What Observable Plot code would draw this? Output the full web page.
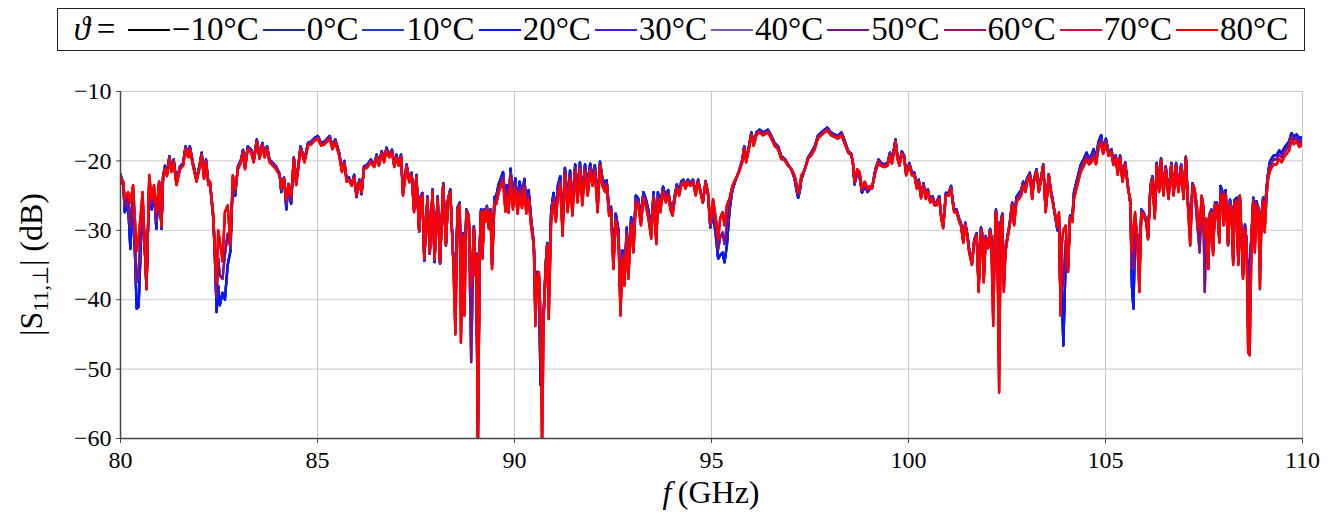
<!DOCTYPE html>
<html><head><meta charset="utf-8">
<script src="https://cdn.jsdelivr.net/npm/d3@7"></script>
<script src="https://cdn.jsdelivr.net/npm/@observablehq/plot@0.6"></script>
<style>
body{margin:0;background:#fff;font-family:"Liberation Serif",serif;}
#wrap{position:relative;width:1336px;height:515px;overflow:hidden;}
#legend{position:absolute;left:57px;top:8px;width:1246px;height:41px;border:1px solid #222;display:flex;align-items:center;justify-content:center;font-size:33px;white-space:nowrap;}
.item{display:flex;align-items:center;}
.sw{display:inline-block;width:42px;height:2px;margin:0 2px 0 4px;}
#chart{position:absolute;left:0;top:57px;}
</style></head><body>
<div id="wrap"><div id="legend"></div><div id="chart"></div></div>
<script>
const temps = [-10, 0, 10, 20, 30, 40, 50, 60, 70, 80];
const colors = ["#000000","#15308f","#1e3fd0","#0a14ff","#4a1ae6","#8258b4","#80107f","#a0106a","#d0103c","#ff0000"];
const group = ["cold","cold","cold","cold","mid","mid","mid","warm","warm","warm"];
const xTicks = [80, 85, 90, 95, 100, 105, 110];
const yTicks = [-60, -50, -40, -30, -20, -10];

const freq = [80.00,80.07,80.11,80.19,80.25,80.32,80.41,80.46,80.51,80.56,80.66,80.73,80.79,80.85,80.91,80.98,81.04,81.08,81.13,81.18,81.24,81.29,81.35,81.42,81.51,81.59,81.65,81.72,81.76,81.84,81.93,82.00,82.06,82.12,82.17,82.23,82.27,82.35,82.39,82.44,82.48,82.52,82.59,82.65,82.72,82.79,82.85,82.91,82.98,83.06,83.11,83.16,83.23,83.32,83.38,83.46,83.53,83.60,83.66,83.72,83.78,83.87,83.95,84.04,84.08,84.15,84.21,84.26,84.33,84.40,84.46,84.52,84.57,84.67,84.76,84.84,84.92,85.01,85.09,85.18,85.31,85.38,85.45,85.55,85.62,85.68,85.74,85.80,85.87,85.93,85.99,86.06,86.12,86.18,86.27,86.35,86.44,86.50,86.56,86.63,86.69,86.75,86.82,86.89,86.95,87.00,87.06,87.12,87.17,87.26,87.33,87.39,87.45,87.51,87.58,87.62,87.66,87.71,87.79,87.85,87.92,87.97,88.05,88.11,88.19,88.26,88.31,88.37,88.44,88.50,88.56,88.61,88.64,88.70,88.73,88.78,88.84,88.90,88.97,89.00,89.03,89.07,89.12,89.15,89.19,89.22,89.26,89.30,89.35,89.39,89.43,89.49,89.54,89.60,89.66,89.71,89.77,89.81,89.85,89.90,89.96,90.02,90.08,90.13,90.19,90.25,90.30,90.36,90.42,90.49,90.53,90.57,90.62,90.66,90.70,90.74,90.79,90.83,90.87,90.93,90.99,91.05,91.10,91.16,91.22,91.28,91.35,91.41,91.47,91.54,91.60,91.66,91.72,91.79,91.86,91.92,91.98,92.04,92.11,92.17,92.23,92.30,92.34,92.40,92.45,92.51,92.57,92.64,92.69,92.74,92.79,92.85,92.89,92.96,93.02,93.08,93.14,93.21,93.27,93.33,93.40,93.47,93.53,93.60,93.64,93.70,93.77,93.84,93.90,93.96,94.01,94.07,94.12,94.18,94.23,94.29,94.34,94.40,94.46,94.53,94.60,94.66,94.72,94.78,94.85,94.91,94.97,95.04,95.11,95.17,95.22,95.28,95.33,95.39,95.46,95.53,95.61,95.70,95.78,95.83,95.88,95.95,96.01,96.07,96.14,96.22,96.31,96.43,96.52,96.60,96.69,96.77,96.86,96.94,97.03,97.11,97.15,97.20,97.24,97.28,97.37,97.45,97.53,97.62,97.70,97.79,97.87,97.94,98.03,98.13,98.21,98.30,98.38,98.47,98.55,98.59,98.63,98.70,98.76,98.82,98.89,98.96,99.02,99.07,99.16,99.24,99.30,99.39,99.47,99.53,99.58,99.67,99.72,99.77,99.83,99.89,99.94,100.02,100.09,100.15,100.21,100.26,100.32,100.38,100.44,100.49,100.55,100.61,100.66,100.71,100.78,100.83,100.88,100.95,101.02,101.08,101.12,101.16,101.22,101.29,101.33,101.39,101.44,101.50,101.54,101.61,101.67,101.73,101.78,101.84,101.87,101.91,101.96,102.02,102.07,102.10,102.15,102.19,102.22,102.25,102.30,102.34,102.38,102.42,102.46,102.51,102.57,102.63,102.68,102.74,102.80,102.86,102.91,102.97,103.01,103.08,103.14,103.18,103.25,103.31,103.37,103.42,103.48,103.52,103.56,103.61,103.66,103.71,103.78,103.82,103.86,103.89,103.93,103.99,104.05,104.10,104.16,104.20,104.28,104.37,104.45,104.52,104.58,104.64,104.70,104.76,104.82,104.89,104.94,105.01,105.08,105.15,105.20,105.26,105.31,105.37,105.43,105.50,105.57,105.63,105.67,105.71,105.75,105.80,105.86,105.91,105.97,106.03,106.08,106.14,106.19,106.25,106.30,106.36,106.41,106.47,106.53,106.60,106.67,106.73,106.79,106.85,106.92,106.98,107.04,107.09,107.15,107.21,107.26,107.32,107.35,107.39,107.44,107.48,107.52,107.56,107.61,107.65,107.69,107.73,107.78,107.83,107.89,107.92,107.97,108.00,108.05,108.11,108.16,108.20,108.24,108.28,108.33,108.37,108.41,108.45,108.49,108.54,108.58,108.62,108.66,108.71,108.75,108.79,108.83,108.88,108.92,108.96,109.00,109.04,109.09,109.13,109.17,109.21,109.27,109.34,109.41,109.47,109.53,109.59,109.66,109.72,109.78,109.85,109.92,109.97,110.00];

const warm = [-22.3,-23.0,-25.5,-24.5,-26.0,-23.5,-33.0,-31.0,-28.0,-24.5,-38.5,-22.0,-25.5,-23.5,-27.4,-23.0,-29.3,-22.6,-21.2,-22.2,-19.7,-21.6,-20.2,-23.5,-21.2,-20.7,-18.3,-19.5,-18.3,-20.7,-23.0,-21.2,-19.2,-22.6,-20.2,-23.5,-23.0,-27.4,-31.7,-37.5,-30.0,-31.5,-34.5,-27.4,-26.4,-32.0,-22.1,-24.0,-21.2,-20.2,-18.8,-21.2,-18.3,-18.8,-20.2,-17.3,-19.7,-17.8,-19.5,-18.3,-20.2,-20.7,-21.2,-22.1,-24.0,-22.6,-25.5,-23.5,-25.0,-19.7,-23.5,-20.7,-18.3,-20.2,-17.8,-17.6,-17.1,-16.8,-17.8,-17.6,-16.8,-18.3,-17.3,-19.2,-21.6,-20.4,-23.0,-22.8,-23.6,-22.4,-25.0,-23.1,-24.5,-21.2,-20.9,-20.2,-20.9,-19.5,-20.7,-19.0,-20.2,-18.5,-19.5,-18.8,-20.9,-19.5,-20.7,-19.5,-25.0,-20.9,-23.1,-22.1,-27.4,-22.4,-30.0,-25.5,-25.0,-34.1,-25.5,-33.2,-24.5,-34.1,-25.5,-34.6,-23.6,-32.0,-26.0,-24.5,-33.7,-45.0,-27.0,-26.4,-46.2,-30.8,-42.3,-27.4,-28.3,-38.0,-29.8,-36.5,-33.7,-62.0,-32.2,-27.4,-34.1,-27.4,-28.8,-26.9,-29.8,-27.4,-35.6,-26.4,-26.2,-24.5,-23.6,-23.0,-27.3,-25.0,-27.5,-22.5,-27.0,-24.0,-27.6,-24.5,-26.8,-24.0,-27.6,-25.6,-29.4,-32.2,-43.8,-37.0,-36.0,-42.0,-62.0,-42.8,-36.0,-32.2,-42.8,-28.8,-26.0,-28.8,-25.0,-23.6,-30.8,-22.1,-27.4,-22.6,-27.9,-21.6,-26.0,-21.2,-26.4,-21.6,-25.0,-21.4,-23.6,-21.6,-27.4,-20.7,-23.6,-24.5,-23.6,-27.9,-27.4,-35.6,-28.8,-31.2,-42.3,-34.1,-38.0,-30.8,-37.0,-29.3,-33.2,-26.0,-26.4,-29.3,-25.5,-26.4,-28.3,-31.2,-25.5,-32.0,-25.5,-27.4,-24.5,-26.0,-25.0,-27.1,-27.9,-25.5,-24.0,-25.0,-23.6,-23.1,-24.0,-23.1,-23.6,-23.1,-25.0,-23.1,-24.5,-26.0,-23.1,-24.5,-29.0,-25.5,-28.3,-31.3,-28.3,-27.4,-29.3,-26.4,-25.4,-23.6,-22.6,-21.6,-20.2,-18.3,-20.2,-18.3,-16.3,-17.8,-16.3,-15.9,-16.3,-15.9,-16.8,-17.8,-18.3,-19.7,-19.9,-20.7,-21.2,-22.1,-23.1,-24.5,-23.6,-22.1,-21.2,-19.7,-19.2,-18.3,-16.8,-16.3,-15.9,-15.6,-16.3,-16.6,-16.8,-16.3,-17.5,-18.8,-19.2,-20.2,-23.0,-21.2,-21.6,-24.0,-23.0,-24.0,-23.6,-24.0,-21.6,-20.2,-20.7,-20.9,-20.7,-19.2,-20.4,-17.3,-19.7,-20.7,-19.0,-19.7,-22.1,-20.7,-22.1,-22.1,-24.0,-23.1,-25.4,-23.6,-25.5,-24.5,-26.0,-25.5,-26.4,-26.4,-25.5,-28.3,-29.7,-25.0,-25.0,-24.0,-26.0,-27.4,-27.4,-28.8,-29.3,-31.8,-29.3,-31.2,-33.2,-35.0,-31.7,-30.8,-38.9,-30.0,-30.8,-37.5,-31.2,-32.6,-30.2,-31.2,-43.8,-32.2,-27.4,-29.3,-53.4,-29.3,-28.0,-38.9,-33.2,-31.3,-29.3,-26.4,-29.3,-25.9,-25.5,-25.0,-23.6,-24.5,-23.1,-22.1,-25.5,-23.1,-21.6,-24.5,-22.6,-20.7,-27.4,-25.0,-22.1,-24.5,-26.0,-27.4,-29.3,-27.4,-42.3,-32.0,-30.0,-29.3,-36.0,-28.3,-28.8,-25.5,-23.6,-21.6,-20.7,-19.8,-20.5,-20.2,-19.5,-20.5,-18.3,-17.5,-19.0,-17.5,-19.3,-18.8,-20.6,-19.6,-22.0,-19.6,-23.0,-20.6,-24.0,-25.5,-33.2,-30.0,-27.4,-30.8,-38.9,-27.4,-27.9,-28.8,-31.3,-24.0,-22.6,-28.3,-20.7,-24.5,-20.0,-25.0,-21.2,-25.5,-20.7,-25.0,-20.7,-24.5,-20.9,-25.5,-19.6,-26.4,-32.2,-23.6,-24.0,-26.4,-29.3,-30.0,-25.0,-26.4,-31.0,-28.3,-35.6,-27.9,-27.4,-33.6,-26.4,-26.4,-31.8,-25.0,-24.9,-29.3,-25.0,-32.2,-26.4,-27.4,-35.0,-26.4,-25.9,-35.0,-25.0,-30.8,-37.0,-29.8,-32.2,-47.6,-48.0,-30.8,-25.9,-33.2,-26.4,-27.4,-38.5,-28.3,-25.9,-30.3,-24.9,-22.5,-21.5,-21.0,-20.5,-20.5,-19.8,-20.2,-19.5,-19.0,-18.5,-17.0,-17.6,-17.2,-18.0,-17.6,-17.8];

const mid = [-22.1,-23.3,-26.5,-25.2,-29.5,-24.2,-37.5,-36.0,-30.5,-25.2,-38.5,-22.4,-26.2,-24.0,-28.6,-23.0,-29.5,-22.4,-21.0,-22.0,-19.5,-21.4,-20.0,-23.3,-21.0,-20.5,-18.1,-19.3,-18.1,-20.5,-22.8,-21.0,-19.0,-22.4,-20.0,-23.3,-23.0,-27.7,-32.4,-39.5,-34.0,-36.5,-37.0,-33.5,-30.5,-32.5,-22.5,-24.5,-21.0,-20.0,-18.6,-21.0,-18.1,-18.6,-20.0,-17.1,-19.5,-17.6,-19.3,-18.1,-20.0,-20.5,-21.0,-22.0,-24.2,-22.5,-26.2,-23.4,-25.6,-19.6,-23.3,-20.5,-18.1,-20.0,-17.6,-17.4,-16.9,-16.6,-17.6,-17.4,-16.6,-18.1,-17.1,-19.0,-21.4,-20.2,-22.8,-22.6,-23.5,-22.2,-25.0,-22.9,-24.5,-21.0,-20.7,-20.0,-20.7,-19.3,-20.5,-18.8,-20.0,-18.3,-19.3,-18.6,-20.7,-19.3,-20.5,-19.3,-24.8,-20.7,-22.9,-21.9,-27.2,-22.2,-30.0,-25.3,-24.8,-34.1,-25.3,-33.2,-24.3,-34.3,-25.3,-34.7,-23.4,-32.0,-25.8,-24.3,-33.5,-40.0,-26.8,-26.2,-42.0,-30.6,-38.0,-27.2,-28.1,-49.0,-29.6,-36.0,-33.5,-62.0,-32.0,-27.2,-33.9,-27.2,-28.6,-26.7,-29.6,-27.2,-35.0,-25.8,-25.6,-23.9,-23.0,-22.3,-26.5,-24.2,-26.8,-21.8,-26.2,-23.3,-26.8,-23.8,-26.0,-23.3,-26.8,-24.9,-28.8,-32.0,-42.0,-36.5,-36.5,-47.0,-52.0,-42.3,-35.5,-32.0,-40.0,-28.0,-25.3,-28.0,-24.3,-22.9,-30.0,-21.5,-26.6,-22.0,-27.0,-21.0,-25.2,-20.7,-25.6,-21.0,-24.3,-20.9,-23.0,-21.1,-26.6,-20.4,-23.0,-24.0,-23.2,-27.4,-27.0,-34.8,-28.2,-30.6,-41.4,-33.5,-37.2,-30.2,-36.2,-28.7,-32.5,-25.5,-25.9,-28.7,-25.0,-25.9,-27.7,-30.5,-25.0,-31.4,-25.0,-26.9,-24.1,-25.6,-24.6,-26.7,-27.5,-25.2,-23.7,-24.7,-23.3,-22.9,-23.8,-22.9,-23.4,-22.9,-24.8,-22.9,-24.4,-26.0,-23.0,-24.6,-29.3,-26.5,-29.5,-32.7,-31.0,-30.3,-32.0,-29.3,-26.2,-23.9,-22.7,-21.5,-20.0,-18.1,-20.0,-18.1,-16.1,-17.6,-16.1,-15.7,-16.1,-15.7,-16.6,-17.6,-18.1,-19.5,-19.8,-20.6,-21.2,-22.3,-23.5,-24.9,-24.0,-22.4,-21.2,-19.6,-19.0,-18.1,-16.6,-16.1,-15.7,-15.4,-16.1,-16.4,-16.6,-16.1,-17.3,-18.7,-19.1,-20.3,-23.2,-21.4,-22.0,-24.3,-23.3,-24.2,-23.8,-24.0,-21.4,-20.0,-20.5,-20.7,-20.5,-19.0,-20.2,-17.1,-19.5,-20.5,-18.8,-19.5,-21.9,-20.5,-21.9,-21.9,-23.8,-22.9,-25.2,-23.4,-25.3,-24.3,-25.8,-25.3,-26.2,-26.2,-25.3,-28.1,-29.5,-24.8,-24.8,-23.8,-25.8,-27.2,-27.2,-28.6,-29.1,-31.6,-29.1,-31.0,-33.0,-34.8,-31.5,-30.6,-38.5,-29.8,-30.6,-37.0,-31.0,-32.4,-30.0,-31.0,-40.0,-32.0,-27.2,-29.1,-50.0,-29.1,-27.8,-38.0,-33.0,-31.1,-29.1,-26.2,-29.0,-25.6,-25.1,-24.6,-23.3,-24.2,-22.8,-21.9,-25.3,-22.9,-21.4,-24.3,-22.4,-20.6,-27.2,-24.8,-22.0,-24.3,-25.8,-27.4,-29.6,-28.0,-41.7,-35.0,-38.0,-31.5,-35.5,-28.1,-28.4,-25.0,-23.1,-21.1,-20.2,-19.3,-20.1,-19.7,-18.9,-20.1,-17.8,-16.9,-18.6,-17.1,-19.0,-18.5,-20.4,-19.4,-21.8,-19.4,-22.8,-20.4,-23.8,-25.8,-35.5,-35.5,-28.7,-30.6,-37.0,-27.2,-27.7,-28.6,-31.1,-23.8,-22.4,-28.0,-20.5,-24.3,-19.8,-24.7,-21.0,-25.2,-20.5,-24.7,-20.5,-24.2,-20.7,-25.2,-19.5,-26.0,-31.0,-23.4,-24.0,-28.5,-30.5,-33.2,-25.2,-26.6,-38.9,-28.5,-35.0,-27.7,-27.2,-33.2,-26.2,-26.2,-31.5,-24.3,-24.7,-29.1,-24.6,-32.0,-26.0,-27.1,-34.5,-26.0,-25.6,-34.8,-25.0,-30.6,-36.5,-29.5,-31.8,-44.0,-42.0,-30.5,-25.6,-32.5,-26.1,-27.1,-35.5,-28.0,-25.6,-29.0,-24.3,-22.0,-20.8,-20.3,-19.8,-19.8,-19.1,-19.5,-18.8,-18.3,-17.8,-16.5,-17.0,-16.7,-17.4,-17.1,-17.3];

const cold = [-21.9,-23.6,-27.4,-26.0,-32.7,-25.0,-41.3,-41.0,-33.0,-26.0,-38.0,-23.0,-27.0,-24.5,-29.8,-23.2,-29.8,-22.2,-20.7,-21.8,-19.3,-21.2,-19.8,-23.0,-20.8,-20.3,-17.9,-19.1,-17.9,-20.3,-22.6,-20.8,-18.8,-22.2,-19.8,-23.1,-23.2,-28.0,-33.0,-41.8,-38.0,-40.8,-39.0,-40.0,-35.0,-33.0,-23.0,-25.0,-20.8,-19.8,-18.4,-20.8,-17.9,-18.4,-19.8,-16.9,-19.3,-17.4,-19.1,-17.9,-19.8,-20.3,-20.8,-21.9,-24.5,-22.4,-27.0,-23.3,-26.2,-19.5,-23.1,-20.3,-17.9,-19.8,-17.4,-17.2,-16.7,-16.4,-17.4,-17.2,-16.4,-17.9,-16.9,-18.8,-21.2,-20.0,-22.6,-22.4,-23.4,-22.0,-25.2,-22.7,-24.8,-20.8,-20.5,-19.8,-20.5,-19.1,-20.3,-18.6,-19.8,-18.1,-19.1,-18.4,-20.5,-19.1,-20.3,-19.1,-24.6,-20.5,-22.7,-21.7,-27.0,-22.0,-30.2,-25.1,-24.6,-34.4,-25.1,-33.4,-24.1,-34.6,-25.1,-34.8,-23.2,-32.2,-25.6,-24.1,-33.3,-36.0,-26.6,-26.0,-38.0,-30.4,-35.0,-27.0,-27.9,-42.0,-29.4,-35.5,-33.3,-58.0,-31.8,-27.0,-33.7,-27.0,-28.4,-26.5,-29.4,-27.0,-34.5,-25.2,-25.0,-23.3,-22.4,-21.6,-25.8,-23.5,-26.0,-21.1,-25.5,-22.5,-26.0,-23.0,-25.3,-22.6,-26.0,-24.2,-28.2,-31.8,-40.0,-36.0,-37.0,-52.3,-44.0,-42.0,-35.0,-31.8,-38.0,-27.2,-24.6,-27.2,-23.6,-22.2,-29.2,-21.0,-25.8,-21.4,-26.2,-20.5,-24.5,-20.2,-24.8,-20.5,-23.6,-20.4,-22.4,-20.6,-25.8,-20.1,-22.4,-23.5,-22.8,-26.9,-26.6,-34.0,-27.6,-30.0,-40.5,-32.9,-36.4,-29.6,-35.4,-28.1,-31.8,-25.0,-25.4,-28.1,-24.5,-25.4,-27.1,-29.8,-24.5,-30.8,-24.5,-26.4,-23.7,-25.2,-24.2,-26.3,-27.1,-24.9,-23.4,-24.4,-23.0,-22.7,-23.6,-22.7,-23.2,-22.7,-24.6,-22.7,-24.3,-26.0,-22.9,-24.8,-29.6,-27.5,-30.8,-34.1,-33.6,-33.2,-34.6,-32.2,-27.0,-24.2,-22.8,-21.4,-19.8,-17.9,-19.8,-17.9,-15.9,-17.4,-15.9,-15.5,-15.9,-15.5,-16.4,-17.4,-17.9,-19.3,-19.7,-20.5,-21.3,-22.6,-24.0,-25.3,-24.4,-22.7,-21.2,-19.5,-18.8,-17.9,-16.4,-15.9,-15.5,-15.2,-15.9,-16.2,-16.4,-15.9,-17.1,-18.6,-19.0,-20.4,-23.4,-21.6,-22.4,-24.6,-23.6,-24.5,-24.0,-24.0,-21.2,-19.8,-20.3,-20.5,-20.3,-18.8,-20.0,-16.9,-19.3,-20.3,-18.6,-19.3,-21.7,-20.3,-21.7,-21.7,-23.6,-22.7,-25.0,-23.2,-25.1,-24.1,-25.6,-25.1,-26.0,-26.0,-25.1,-27.9,-29.3,-24.6,-24.6,-23.6,-25.6,-27.0,-27.0,-28.4,-28.9,-31.4,-28.9,-30.8,-32.8,-34.6,-31.3,-30.4,-38.0,-29.6,-30.4,-36.5,-30.8,-32.2,-29.8,-30.8,-37.0,-31.8,-27.0,-28.9,-46.0,-28.9,-27.6,-37.0,-32.8,-30.9,-28.9,-26.0,-28.6,-25.2,-24.7,-24.2,-23.0,-23.9,-22.5,-21.7,-25.1,-22.7,-21.2,-24.1,-22.2,-20.5,-27.0,-24.6,-21.9,-24.1,-25.6,-27.6,-30.0,-28.6,-41.0,-38.0,-46.6,-34.0,-35.0,-27.9,-28.0,-24.5,-22.6,-20.6,-19.7,-18.8,-19.7,-19.2,-18.3,-19.7,-17.3,-16.3,-18.3,-16.8,-18.8,-18.3,-20.2,-19.2,-21.6,-19.2,-22.6,-20.2,-23.6,-26.2,-38.0,-41.3,-30.0,-30.4,-35.0,-27.0,-27.5,-28.4,-30.9,-23.6,-22.2,-27.7,-20.3,-24.1,-19.6,-24.4,-20.8,-24.9,-20.3,-24.4,-20.3,-23.9,-20.5,-24.9,-19.4,-25.6,-30.0,-23.2,-24.2,-27.5,-30.0,-31.0,-25.4,-26.8,-34.0,-28.7,-34.5,-27.5,-27.0,-32.8,-26.0,-26.0,-31.2,-23.6,-24.5,-28.9,-24.2,-31.8,-25.6,-26.8,-34.0,-25.6,-25.3,-34.6,-25.2,-30.4,-36.0,-29.2,-31.4,-40.0,-35.0,-30.2,-25.3,-31.8,-25.8,-26.8,-32.5,-27.7,-25.3,-27.5,-23.7,-21.6,-20.2,-19.7,-19.2,-19.2,-18.5,-18.9,-18.2,-17.7,-17.2,-16.0,-16.5,-16.2,-16.8,-16.6,-16.8];

const seriesValues = {cold, mid, warm};

// Legend
const legend = document.getElementById("legend");
const head = document.createElement("span");
head.innerHTML = '<i>&#977;</i>&#8201;=&#8201;';
head.style.marginRight = "2px";
legend.appendChild(head);
temps.forEach((t, i) => {
  const it = document.createElement("span");
  it.className = "item";
  const sw = document.createElement("span");
  sw.className = "sw";
  sw.style.background = colors[i];
  it.appendChild(sw);
  const lab = document.createElement("span");
  lab.textContent = (t < 0 ? "\u2212" + Math.abs(t) : t) + "\u00B0C";
  it.appendChild(lab);
  legend.appendChild(it);
});

const lineMarks = temps.map((t, i) => {
  const vals = seriesValues[group[i]];
  const rows = freq.map((f, j) => ({f, v: vals[j]}));
  return Plot.line(rows, {x: "f", y: "v", stroke: colors[i], strokeWidth: 2.3, clip: true});
});

const H = 458;
const chart = Plot.plot({
  width: 1336, height: H,
  marginLeft: 120, marginRight: 34, marginTop: 34, marginBottom: 77,
  style: {fontFamily: "Liberation Serif, serif", fontSize: "24px", background: "white", color: "black", overflow: "visible"},
  x: {domain: [80, 110]},
  y: {domain: [-60, -10]},
  marks: [
    Plot.gridX(xTicks, {stroke: "#c8c8c8", strokeOpacity: 1, strokeWidth: 1}),
    Plot.gridY(yTicks, {stroke: "#c8c8c8", strokeOpacity: 1, strokeWidth: 1}),
    ...lineMarks,
    Plot.ruleX([80], {stroke: "#444", strokeWidth: 1.5}),
    Plot.ruleY([-60], {stroke: "#444", strokeWidth: 1.5}),
    Plot.axisX(xTicks, {tickSize: 5, tickPadding: 7, label: null, stroke: "#444", tickFormat: d => String(d)}),
    Plot.axisY(yTicks, {tickSize: 4, tickPadding: 5, label: null, stroke: "#444"})
  ]
});
document.getElementById("chart").appendChild(chart);

const svg = d3.select(chart);
const yl = svg.append("text")
  .attr("transform", `translate(42, ${(34 + H - 77) / 2}) rotate(-90)`)
  .attr("text-anchor", "middle")
  .style("font-family", "Liberation Serif, serif")
  .style("font-size", "32px")
  .attr("fill", "black");
yl.append("tspan").text("|S");
yl.append("tspan").attr("dy", 6).style("font-size", "22px").text("11,\u22A5");
yl.append("tspan").attr("dy", -6).text("| (dB)");

const xl = svg.append("text")
  .attr("x", (120 + 1336 - 34) / 2)
  .attr("y", H - 12)
  .attr("text-anchor", "middle")
  .style("font-family", "Liberation Serif, serif")
  .style("font-size", "32px")
  .attr("fill", "black");
xl.append("tspan").style("font-style", "italic").text("f");
xl.append("tspan").text("\u2009(GHz)");
</script>
</body></html>
